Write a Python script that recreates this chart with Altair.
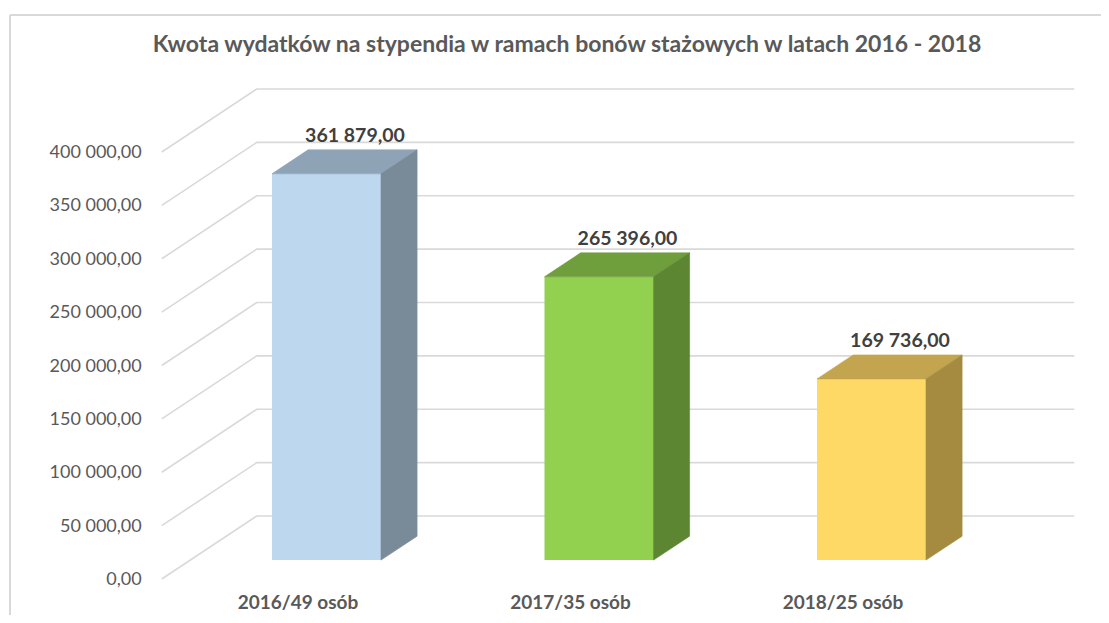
import altair as alt
import pandas as pd

# ---------------- data ----------------
title_text = "Kwota wydatków na stypendia w ramach bonów stażowych  w latach 2016 - 2018"
categories = ["2016/49 osób", "2017/35 osób", "2018/25 osób"]
values = [361879.00, 265396.00, 169736.00]
tick_values = [0, 50000, 100000, 150000, 200000, 250000, 300000, 350000, 400000]

front_colors = ["#BDD7EE", "#92D050", "#FFD966"]
top_colors = ["#8EA3B6", "#6F9E3D", "#C2A54E"]
side_colors = ["#798A99", "#5D8632", "#A48B40"]


def pl(v):
    return f"{v:,.2f}".replace(",", " ").replace(".", ",")


# ---------------- layout (oblique 3D projection) ----------------
W, H = 1093, 607
ORIGIN_X = 290.0          # view px of front-plane category 0
ORIGIN_Y = 571.0          # view px of front-plane value 0
PX_PER_CAT = 272.5
PX_PER_VAL = 427.0 / 400000.0
DX = 95.0 / PX_PER_CAT    # depth offset (full depth) in category units
DY = 63.0 / PX_PER_VAL    # depth offset (full depth) in value units
HW = 0.2                  # half bar width (category units)
ZF, ZB = 0.30, 0.68       # bar front / back depth
ZL = 0.60                 # label depth
WALL_L, WALL_R = -0.5, 2.5

x_domain = [-ORIGIN_X / PX_PER_CAT, (W - ORIGIN_X) / PX_PER_CAT]
y_domain = [-(H - ORIGIN_Y) / PX_PER_VAL, ORIGIN_Y / PX_PER_VAL]
xs = alt.Scale(domain=x_domain, nice=False, zero=False)
ys = alt.Scale(domain=y_domain, nice=False, zero=False)


def X(f):
    return alt.X(f, type="quantitative", scale=xs, axis=None)


def Y(f):
    return alt.Y(f, type="quantitative", scale=ys, axis=None)


def cscale(rng):
    return alt.Scale(domain=categories, range=rng)


# gridlines (left wall + back wall)
grid_rows = []
for t in tick_values:
    for p, (c, z) in enumerate([(WALL_L, 0.0), (WALL_L, 1.0), (WALL_R, 1.0)]):
        grid_rows.append({"tick": t, "p": p, "x": c + z * DX, "y": t + z * DY})
grid_df = pd.DataFrame(grid_rows)

front_rows, top_rows, side_rows, lab_rows = [], [], [], []
for i, (cat, v) in enumerate(zip(categories, values)):
    front_rows.append({"cat": cat, "x": i - HW + ZF * DX, "x2": i + HW + ZF * DX,
                       "y": ZF * DY, "y2": v + ZF * DY})
    for z in (ZF, ZB):
        top_rows.append({"cat": cat, "y": v + z * DY,
                         "x": i - HW + z * DX, "x2": i + HW + z * DX})
        side_rows.append({"cat": cat, "x": i + HW + z * DX,
                          "y": z * DY, "y2": v + z * DY})
    lab_rows.append({"cat": cat, "x": i + ZL * DX, "y": v + ZL * DY, "label": pl(v)})
front_df = pd.DataFrame(front_rows)
top_df = pd.DataFrame(top_rows)
side_df = pd.DataFrame(side_rows)
lab_df = pd.DataFrame(lab_rows)

ytick_df = pd.DataFrame({"x": [WALL_L] * len(tick_values), "y": tick_values,
                         "label": [pl(t) for t in tick_values]})
cat_df = pd.DataFrame({"x": list(range(len(categories))), "y": [0] * len(categories),
                       "label": categories})

grid = alt.Chart(grid_df).mark_line(color="#D9D9D9", strokeWidth=1.6).encode(
    x=X("x"), y=Y("y"), detail="tick:N", order="p:Q")

front = alt.Chart(front_df).mark_rect().encode(
    x=X("x"), x2="x2", y=Y("y"), y2="y2",
    color=alt.Color("cat:N", scale=cscale(front_colors), legend=None))

top = alt.Chart(top_df).mark_area(orient="horizontal", strokeWidth=0.6).encode(
    y=Y("y"), x=X("x"), x2="x2",
    color=alt.Color("cat:N", scale=cscale(top_colors), legend=None),
    stroke=alt.Stroke("cat:N", scale=cscale(top_colors), legend=None))

side = alt.Chart(side_df).mark_area(orient="vertical", strokeWidth=0.6).encode(
    x=X("x"), y=Y("y"), y2="y2",
    fill=alt.Fill("cat:N", scale=cscale(side_colors), legend=None),
    strokeDash=alt.value([1, 0]),
    stroke=alt.Stroke("cat:N", scale=cscale(side_colors), legend=None))

value_labels = alt.Chart(lab_df).mark_text(
    font="Lato", fontSize=19.5, fontWeight="bold", color="#404040",
    baseline="middle", align="center", dy=-19).encode(
    x=X("x"), y=Y("y"), text="label:N")

ytick_labels = alt.Chart(ytick_df).mark_text(
    font="Lato", fontSize=18, color="#595959", align="right",
    baseline="middle", dx=-20, dy=1).encode(
    x=X("x"), y=Y("y"), text="label:N")

cat_labels = alt.Chart(cat_df).mark_text(
    font="Lato", fontSize=19, fontWeight="bold", color="#595959",
    align="center", baseline="middle", dy=24).encode(
    x=X("x"), y=Y("y"), text="label:N")

title = alt.Chart(pd.DataFrame({"t": [title_text]})).mark_text(
    font="Lato", fontSize=23, fontWeight="bold", color="#595959",
    align="center", baseline="middle").encode(
    x=alt.value(559), y=alt.value(37), text="t:N")

border_left = alt.Chart(pd.DataFrame({"a": [0]})).mark_rule(
    color="#D9D9D9", strokeWidth=2).encode(
    x=alt.value(2), y=alt.value(7), y2=alt.value(H))
border_top = alt.Chart(pd.DataFrame({"a": [0]})).mark_rule(
    color="#D9D9D9", strokeWidth=2).encode(
    x=alt.value(2), x2=alt.value(W), y=alt.value(7))

chart = alt.layer(
    border_left, border_top, grid, front, top, side,
    value_labels, ytick_labels, cat_labels, title
).resolve_scale(
    color="independent", fill="independent", stroke="independent"
).properties(
    width=W, height=H, padding=0,
    autosize=alt.AutoSizeParams(type="none"),
    background="white",
).configure_view(stroke=None)

chart.save("out.html", embed_options={"renderer": "svg", "actions": False})
